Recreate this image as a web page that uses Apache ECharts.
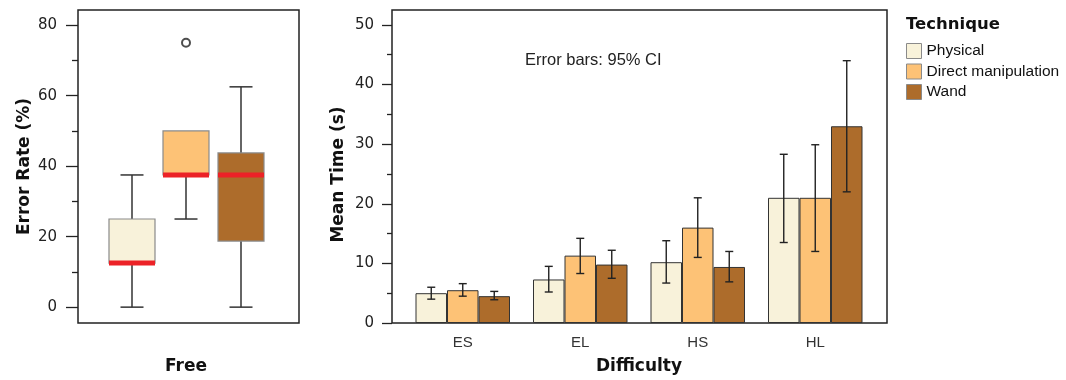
<!DOCTYPE html>
<html>
<head>
<meta charset="utf-8">
<title>Error rate and mean time by technique</title>
<script src="https://cdn.jsdelivr.net/npm/echarts@6.0.0/dist/echarts.min.js"></script>
<style>
    html, body { margin: 0; padding: 0; background: #fff; }
    #chart { width: 1066px; height: 380px; }
</style>
</head>
<body>
<div id="chart"></div>
<script>
// techniques (legend order)
const techniques = ["Physical", "Direct manipulation", "Wand"];
const colors = ["#f8f2da", "#fdc276", "#ad6c2b"];

// left: error rate (%) boxplot, condition "Free"
const boxCategory = ["Free"];
const errMin = [0, 25, 0];
const errQ1 = [12.5, 37.5, 18.75];
const errMedian = [12.5, 37.5, 37.5];
const errQ3 = [25, 50, 43.75];
const errMax = [37.5, 50, 62.5];
const errOutliers = [["Free", 75]];
const errMajorTicks = [0, 20, 40, 60, 80];
const errMinorTicks = [10, 30, 50, 70];

// right: mean time (s) with 95% CI
const difficulties = ["ES", "EL", "HS", "HL"];
const physicalMean = [5.0, 7.3, 10.2, 21.0];
const physicalLow = [4.0, 5.2, 6.7, 13.5];
const physicalHigh = [6.0, 9.5, 13.8, 28.3];
const directMean = [5.5, 11.3, 16.0, 21.0];
const directLow = [4.5, 8.3, 11.0, 12.0];
const directHigh = [6.6, 14.2, 21.0, 29.9];
const wandMean = [4.5, 9.8, 9.4, 33.0];
const wandLow = [3.9, 7.5, 6.9, 22.0];
const wandHigh = [5.3, 12.2, 12.0, 44.0];
const timeMajorTicks = [0, 10, 20, 30, 40, 50];
const timeMinorTicks = [5, 15, 25, 35, 45];

const BAR_W = 31.5;
const BOX_W = 46;
const BOX_OFFSETS = [-54, 0, 55];
const CAP_W = 23;
const CI_CAP = 8;
const INK = "#222";

/** box + whiskers + red median, one item per technique */
function renderBox(params, api) {
    const k = api.value(6);
    const base = api.coord([0, api.value(1)]);
    const cx = base[0] + BOX_OFFSETS[k];
    const yMin = base[1];
    const yQ1 = api.coord([0, api.value(2)])[1];
    const yMed = api.coord([0, api.value(3)])[1];
    const yQ3 = api.coord([0, api.value(4)])[1];
    const yMax = api.coord([0, api.value(5)])[1];
    const whisker = { stroke: "#333", lineWidth: 1.5 };
    const children = [];
    if (api.value(1) < api.value(2)) {
        children.push({ type: "line", shape: { x1: cx, y1: yMin, x2: cx, y2: yQ1 }, style: whisker });
        children.push({ type: "line", shape: { x1: cx - CAP_W / 2, y1: yMin, x2: cx + CAP_W / 2, y2: yMin }, style: whisker });
    }
    if (api.value(5) > api.value(4)) {
        children.push({ type: "line", shape: { x1: cx, y1: yQ3, x2: cx, y2: yMax }, style: whisker });
        children.push({ type: "line", shape: { x1: cx - CAP_W / 2, y1: yMax, x2: cx + CAP_W / 2, y2: yMax }, style: whisker });
    }
    children.push({
        type: "rect",
        shape: { x: cx - BOX_W / 2, y: yQ3, width: BOX_W, height: yQ1 - yQ3 },
        style: { fill: colors[k], stroke: "#8a8a8a", lineWidth: 1.2 },
    });
    children.push({
        type: "line",
        shape: { x1: cx - BOX_W / 2, y1: yMed, x2: cx + BOX_W / 2, y2: yMed },
        style: { stroke: "#ec2227", lineWidth: 5 },
    });
    return { type: "group", children: children };
}

/** error bar for technique k, drawn over its bar */
function makeCI(k) {
    return function (params, api) {
        const x = api.value(0);
        const lo = api.coord([x, api.value(1)]);
        const hi = api.coord([x, api.value(2)]);
        const cx = lo[0] + (k - 1) * BAR_W;
        const st = { stroke: INK, lineWidth: 1.4 };
        return {
            type: "group",
            children: [
                { type: "line", shape: { x1: cx, y1: lo[1], x2: cx, y2: hi[1] }, style: st },
                { type: "line", shape: { x1: cx - CI_CAP / 2, y1: lo[1], x2: cx + CI_CAP / 2, y2: lo[1] }, style: st },
                { type: "line", shape: { x1: cx - CI_CAP / 2, y1: hi[1], x2: cx + CI_CAP / 2, y2: hi[1] }, style: st },
            ],
        };
    };
}

const tickLabel = { fontFamily: "DejaVu Sans", fontSize: 15, color: INK };
const axisTitle = { fontFamily: "DejaVu Sans", fontWeight: "bold", fontSize: 17, color: "#111" };

const means = [physicalMean, directMean, wandMean];
const lows = [physicalLow, directLow, wandLow];
const highs = [physicalHigh, directHigh, wandHigh];

const barSeries = techniques.map((name, k) => ({
    name: name,
    type: "bar",
    xAxisIndex: 1,
    yAxisIndex: 2,
    barWidth: BAR_W,
    barGap: "0%",
    data: means[k],
    itemStyle: { color: colors[k], borderColor: "#333", borderWidth: 1 },
    emphasis: { disabled: true },
}));

const ciSeries = techniques.map((name, k) => ({
    name: name + " CI",
    type: "custom",
    xAxisIndex: 1,
    yAxisIndex: 2,
    z: 5,
    renderItem: makeCI(k),
    encode: { x: 0, y: [1, 2] },
    data: difficulties.map((d, i) => [i, lows[k][i], highs[k][i]]),
}));

const option = {
    backgroundColor: "#fff",
    animation: false,
    title: [
        {
            text: "Technique",
            left: 906,
            top: 16,
            padding: 0,
            textStyle: { fontFamily: "DejaVu Sans", fontWeight: "bold", fontSize: 16.5, color: "#111" },
        },
        {
            text: "Error bars: 95% CI",
            left: 525,
            top: 52,
            padding: 0,
            textStyle: { fontFamily: "Liberation Sans", fontWeight: "normal", fontSize: 16.5, color: INK },
        },
    ],
    legend: {
        data: techniques,
        orient: "vertical",
        left: 906,
        top: 43,
        padding: 0,
        itemWidth: 15,
        itemHeight: 15,
        itemGap: 4.5,
        icon: "rect",
        selectedMode: false,
        itemStyle: { borderColor: "#8a8a8a", borderWidth: 1 },
        textStyle: { fontFamily: "Liberation Sans", fontSize: 15.5, color: "#111" },
    },
    grid: [
        // left data grid (narrower so the category centre sits at x=186)
        { left: 78, top: 10, width: 216, height: 313 },
        // right data grid
        { left: 404, top: 10, width: 470, height: 313 },
        // frames
        { left: 78, top: 10, width: 221, height: 313, show: true, borderColor: INK, borderWidth: 1.5, backgroundColor: "transparent" },
        { left: 392, top: 10, width: 495, height: 313, show: true, borderColor: INK, borderWidth: 1.5, backgroundColor: "transparent" },
    ],
    xAxis: [
        {
            gridIndex: 0,
            type: "category",
            data: boxCategory,
            axisLine: { show: false },
            axisTick: { alignWithLabel: true, length: 15, lineStyle: { color: INK, width: 1.5 } },
            axisLabel: { margin: 35, fontFamily: "DejaVu Sans", fontWeight: "bold", fontSize: 17, color: "#111" },
        },
        {
            gridIndex: 1,
            type: "category",
            data: difficulties,
            axisLine: { show: false },
            axisTick: { alignWithLabel: true, length: 10, lineStyle: { color: INK, width: 1.5 } },
            axisLabel: { margin: 12, fontFamily: "Liberation Sans", fontSize: 15, color: "#333" },
            name: "Difficulty",
            nameLocation: "middle",
            nameGap: 35,
            nameTextStyle: axisTitle,
        },
        { gridIndex: 2, type: "value", show: false },
        { gridIndex: 3, type: "value", show: false },
    ],
    yAxis: [
        {
            gridIndex: 0,
            type: "value",
            position: "left",
            min: -4.5,
            max: 84.3,
            splitLine: { show: false },
            axisLine: { show: false },
            axisTick: { show: true, length: 12, customValues: errMajorTicks, lineStyle: { color: INK, width: 1.3 } },
            axisLabel: { margin: 21, customValues: errMajorTicks, ...tickLabel },
            name: "Error Rate (%)",
            nameLocation: "middle",
            nameRotate: 90,
            nameGap: 45,
            nameTextStyle: axisTitle,
        },
        {
            gridIndex: 0,
            type: "value",
            position: "left",
            min: -4.5,
            max: 84.3,
            splitLine: { show: false },
            axisLine: { show: false },
            axisTick: { show: true, length: 6, customValues: errMinorTicks, lineStyle: { color: INK, width: 1.3 } },
            axisLabel: { show: false },
        },
        {
            gridIndex: 1,
            type: "value",
            position: "left",
            offset: 12,
            min: 0,
            max: 52.5,
            splitLine: { show: false },
            axisLine: { show: false },
            axisTick: { show: true, length: 10, customValues: timeMajorTicks, lineStyle: { color: INK, width: 1.3 } },
            axisLabel: { margin: 18, customValues: timeMajorTicks, ...tickLabel },
            name: "Mean Time (s)",
            nameLocation: "middle",
            nameRotate: 90,
            nameGap: 45,
            nameTextStyle: { ...axisTitle, padding: [0, 16, 0, 0] },
        },
        {
            gridIndex: 1,
            type: "value",
            position: "left",
            offset: 12,
            min: 0,
            max: 52.5,
            splitLine: { show: false },
            axisLine: { show: false },
            axisTick: { show: true, length: 5, customValues: timeMinorTicks, lineStyle: { color: INK, width: 1.3 } },
            axisLabel: { show: false },
        },
        { gridIndex: 2, type: "value", show: false },
        { gridIndex: 3, type: "value", show: false },
    ],
    series: [
        {
            name: "Error rate",
            type: "custom",
            xAxisIndex: 0,
            yAxisIndex: 0,
            renderItem: renderBox,
            encode: { x: 0, y: [1, 2, 3, 4, 5] },
            data: techniques.map((t, k) => [0, errMin[k], errQ1[k], errMedian[k], errQ3[k], errMax[k], k]),
        },
        {
            name: "Outliers",
            type: "scatter",
            xAxisIndex: 0,
            yAxisIndex: 0,
            z: 6,
            symbol: "emptyCircle",
            symbolSize: 8,
            itemStyle: { color: INK, borderColor: INK, borderWidth: 1.2 },
            emphasis: { disabled: true },
            data: errOutliers,
        },
        ...barSeries,
        ...ciSeries,
    ],
};

const chart = echarts.init(document.getElementById("chart"));
chart.setOption(option);
</script>
</body>
</html>
